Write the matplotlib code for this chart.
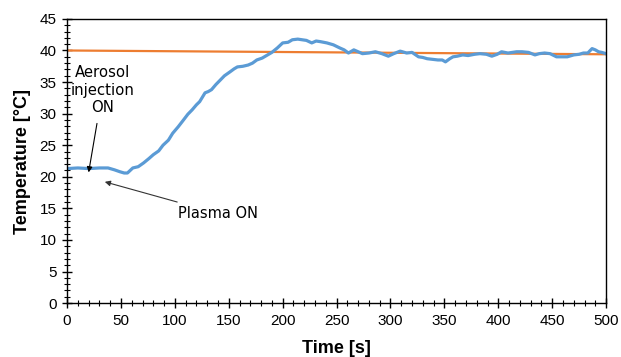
import matplotlib.pyplot as plt
from matplotlib.ticker import MultipleLocator

# Temperature readings
time_s = [0, 10, 20, 30, 38, 44, 49, 53, 56, 61, 66, 71, 76, 80, 85, 89, 94,
          98, 103, 108, 112, 116, 120, 123, 128, 131, 134, 138, 142, 146, 151,
          155, 158, 163, 168, 172, 176, 181, 186, 190, 195, 200, 205, 209, 214,
          218, 222, 227, 231, 235, 241, 247, 253, 257, 261, 266, 270, 274, 280,
          286, 292, 298, 303, 309, 315, 320, 326, 330, 334, 339, 344, 348, 351,
          355, 358, 362, 367, 372, 378, 383, 389, 394, 399, 403, 409, 413, 417,
          422, 428, 434, 438, 443, 448, 454, 459, 464, 470, 475, 479, 483, 487,
          490, 493, 496, 500]
temp_c = [21.3, 21.4, 21.3, 21.4, 21.4, 21.1, 20.8, 20.6, 20.6, 21.4, 21.6, 22.2,
          22.9, 23.5, 24.1, 25.0, 25.8, 26.9, 27.9, 29.0, 29.9, 30.6, 31.4, 31.9,
          33.3, 33.5, 33.8, 34.6, 35.3, 36.0, 36.6, 37.1, 37.4, 37.5, 37.7, 38.0,
          38.5, 38.8, 39.3, 39.7, 40.4, 41.2, 41.3, 41.7, 41.8, 41.7, 41.6, 41.2,
          41.5, 41.4, 41.2, 40.9, 40.4, 40.1, 39.6, 40.1, 39.8, 39.5, 39.6, 39.8,
          39.5, 39.1, 39.5, 39.9, 39.6, 39.7, 39.0, 38.9, 38.7, 38.6, 38.5, 38.5,
          38.2, 38.7, 39.0, 39.1, 39.3, 39.2, 39.4, 39.5, 39.4, 39.1, 39.4, 39.8,
          39.6, 39.7, 39.8, 39.8, 39.7, 39.3, 39.5, 39.6, 39.5, 39.0, 39.0, 39.0,
          39.3, 39.4, 39.6, 39.6, 40.3, 40.1, 39.8, 39.7, 39.5]

target_time = [0, 500]
target_temp = [40.0, 39.4]

plt.rcParams['font.family'] = ['Liberation Sans', 'DejaVu Sans']

fig = plt.figure(figsize=(6.21, 3.57), dpi=100)
ax = fig.add_axes([0.108, 0.151, 0.868, 0.796])

ax.plot(target_time, target_temp, color='#ED7D31', linewidth=1.6)
ax.plot(time_s, temp_c, color='#5B9BD5', linewidth=2.3)

ax.set_xlim(0, 500)
ax.set_ylim(0, 45)
ax.xaxis.set_major_locator(MultipleLocator(50))
ax.xaxis.set_minor_locator(MultipleLocator(10))
ax.yaxis.set_major_locator(MultipleLocator(5))
ax.yaxis.set_minor_locator(MultipleLocator(1))
ax.tick_params(which='major', direction='inout', length=7, width=1, labelsize=11)
ax.tick_params(which='minor', direction='inout', length=4, width=0.8)
ax.tick_params(axis='both', pad=4)
for s in ax.spines.values():
    s.set_linewidth(1)

ax.set_xlabel("Time [s]", fontsize=13, fontweight='bold', labelpad=9)
ax.set_ylabel("Temperature [°C]", fontsize=13, fontweight='bold', labelpad=6)

ax.annotate("Aerosol\ninjection\nON", xy=(20, 20.7), xytext=(33, 33.7),
            ha='center', va='center', fontsize=10.7, family='DejaVu Sans',
            linespacing=1.2,
            arrowprops=dict(arrowstyle='-|>', color='black', lw=0.8,
                            shrinkA=4, shrinkB=0, mutation_scale=8))
ax.annotate("Plasma ON", xy=(35, 19.2), xytext=(103, 14.2),
            ha='left', va='center', fontsize=10.5, family='DejaVu Sans',
            arrowprops=dict(arrowstyle='-|>', color='#333333', lw=0.8,
                            shrinkA=3, shrinkB=0, mutation_scale=8))

fig.savefig("out.png", dpi=100)
